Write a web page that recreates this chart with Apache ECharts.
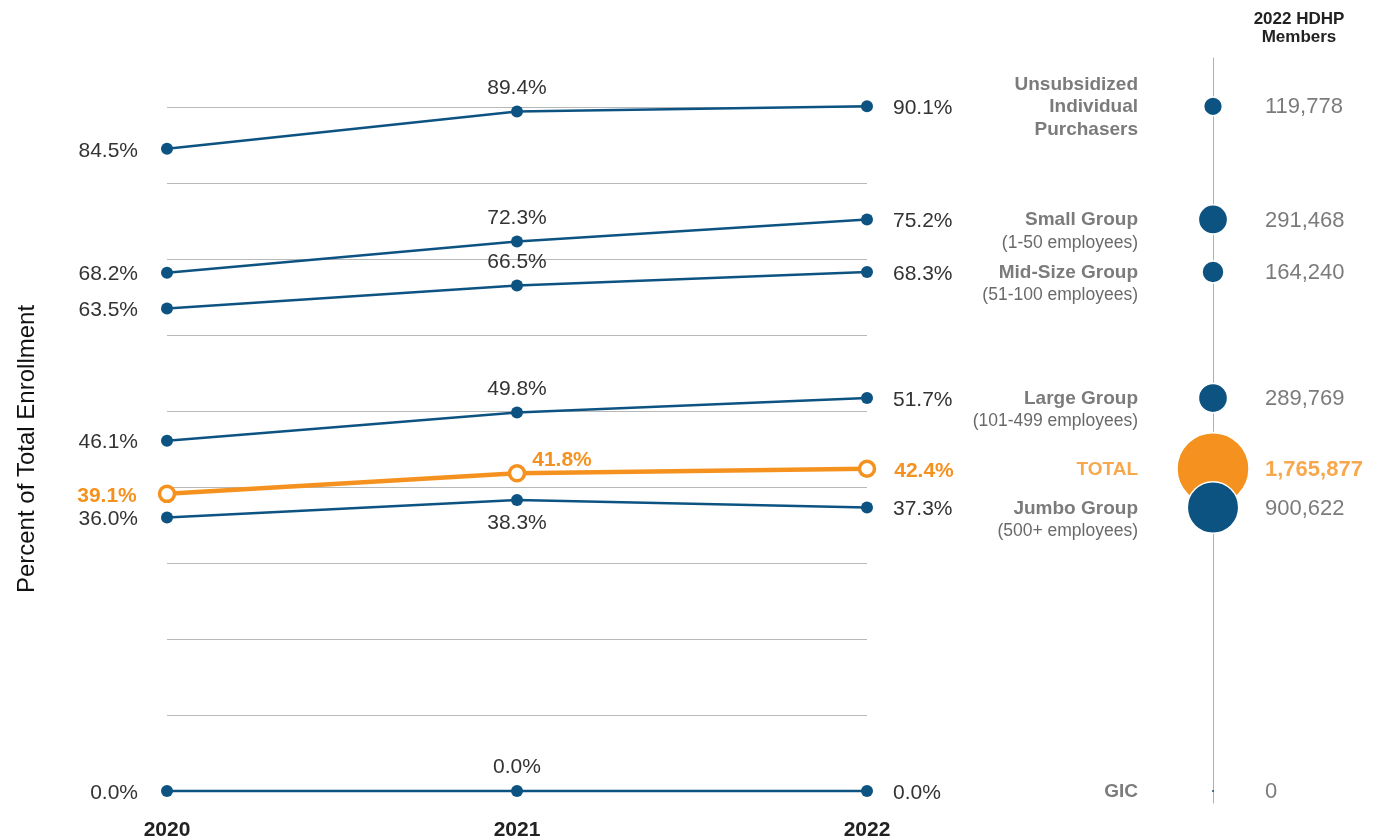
<!DOCTYPE html>
<html>
<head>
<meta charset="utf-8">
<script src="https://cdn.jsdelivr.net/npm/echarts@6/dist/echarts.min.js"></script>
<style>html,body{margin:0;padding:0;background:#fff}#c{width:1387px;height:840px}</style>
</head>
<body>
<div id="c"></div>
<script>
var years = ['2020', '2021', '2022'];
var segNames = ['Unsubsidized\nIndividual\nPurchasers', 'Small Group', 'Mid-Size Group', 'Large Group', 'TOTAL', 'Jumbo Group', 'GIC'];
var segSubs = ['', '(1-50 employees)', '(51-100 employees)', '(101-499 employees)', '', '(500+ employees)', ''];
var unsub = [84.5, 89.4, 90.1];
var small = [68.2, 72.3, 75.2];
var mid = [63.5, 66.5, 68.3];
var large = [46.1, 49.8, 51.7];
var total = [39.1, 41.8, 42.4];
var jumbo = [36.0, 38.3, 37.3];
var gic = [0.0, 0.0, 0.0];
var members2022 = [119778, 291468, 164240, 289769, 1765877, 900622, 0];

var BLUE = '#0d5382', ORANGE = '#f5921f', FONT = '"Liberation Sans", Arial, sans-serif';
var seriesVals = [unsub, small, mid, large, total, jumbo, gic];

function fmtPct(v) { return v.toFixed(1) + '%'; }

var series = [];
seriesVals.forEach(function (vals, si) {
  var isTotal = si === 4;
  var mid2021pos = si === 5 ? 'bottom' : 'top';
  var data = vals.map(function (v, i) {
    var lab;
    if (i === 0) lab = { position: 'left', distance: isTotal ? 21 : 23, offset: [0, 2] };
    else if (i === 2) lab = { position: 'right', distance: isTotal ? 18 : 20, offset: [0, 2] };
    else if (isTotal) lab = { position: 'right', distance: 6, offset: [0, -13] };
    else lab = { position: mid2021pos, distance: 7 };
    return { value: v, label: lab };
  });
  series.push({
    type: 'line',
    xAxisIndex: 0, yAxisIndex: 0,
    data: data,
    clip: false,
    z: isTotal ? 5 : 3,
    symbol: 'circle',
    symbolSize: isTotal ? 15 : 12,
    showAllSymbol: true,
    lineStyle: { color: isTotal ? ORANGE : BLUE, width: isTotal ? 4.5 : 2.5 },
    itemStyle: isTotal ? { color: '#fff', borderColor: ORANGE, borderWidth: 3.5 } : { color: BLUE, borderWidth: 0 },
    label: {
      show: true,
      formatter: function (p) { return fmtPct(p.value); },
      fontFamily: FONT,
      fontSize: 21,
      color: isTotal ? ORANGE : '#333',
      fontWeight: isTotal ? 'bold' : 'normal'
    },
    emphasis: { disabled: true },
    animation: false
  });
});

var kSize = 72 / Math.sqrt(1765877);
var bubbleData = seriesVals.map(function (vals, si) {
  return {
    value: [0, vals[2]],
    members: members2022[si],
    itemStyle: { color: si === 4 ? ORANGE : BLUE, borderWidth: members2022[si] > 0 ? 1.5 : 0 }
  };
});
series.push({
  type: 'scatter',
  xAxisIndex: 1, yAxisIndex: 1,
  data: bubbleData,
  symbolSize: function (val, p) { return Math.max(2, kSize * Math.sqrt(p.data.members)); },
  itemStyle: { borderColor: '#fff', opacity: 1 },
  z: 4,
  emphasis: { disabled: true },
  animation: false
});
// name labels (left) and value labels (right)
series.push({
  type: 'scatter',
  xAxisIndex: 1, yAxisIndex: 1,
  symbolSize: 0,
  data: seriesVals.map(function (vals, si) {
    return {
      value: [0, vals[2]],
      label: {
        offset: [0, segSubs[si] ? 12 : 1],
        formatter: segSubs[si] ? '{b|' + segNames[si] + '}\n{s|' + segSubs[si] + '}' : '{' + (si === 4 ? 't' : 'b') + '|' + segNames[si] + '}'
      }
    };
  }),
  label: {
    show: true, position: 'left', distance: 75, align: 'right',
    fontFamily: FONT,
    rich: {
      b: { fontFamily: FONT, fontSize: 19, fontWeight: 'bold', color: '#5a5a5a', lineHeight: 22.5, align: 'right' },
      t: { fontFamily: FONT, fontSize: 19, fontWeight: 'bold', color: ORANGE, lineHeight: 22.5, align: 'right' },
      s: { fontFamily: FONT, fontSize: 17.5, color: '#444', lineHeight: 22.5, align: 'right' }
    }
  },
  emphasis: { disabled: true },
  animation: false,
  z: 6
});
series.push({
  type: 'scatter',
  xAxisIndex: 1, yAxisIndex: 1,
  symbolSize: 0,
  data: seriesVals.map(function (vals, si) {
    return {
      value: [0, vals[2]],
      label: {
        formatter: members2022[si].toLocaleString('en-US'),
        color: si === 4 ? ORANGE : '#5a5a5a',
        fontWeight: si === 4 ? 'bold' : 'normal'
      }
    };
  }),
  label: { show: true, position: 'right', distance: 52, fontFamily: FONT, fontSize: 22, offset: [0, 1] },
  emphasis: { disabled: true },
  animation: false,
  z: 6
});

var chart = echarts.init(document.getElementById('c'), null, { renderer: 'canvas' });
chart.setOption({
  backgroundColor: '#fff',
  animation: false,
  title: {
    text: '2022 HDHP\nMembers',
    left: 1294, top: 5, textAlign: 'center',
    textStyle: { fontFamily: FONT, fontSize: 17, fontWeight: 'bold', color: '#222', lineHeight: 18 }
  },
  grid: [
    { left: 167, right: 520, top: 107, bottom: 49, outerBoundsMode: 'none', containLabel: false },
    { left: 1203, width: 20, top: 58, bottom: 37, outerBoundsMode: 'none', containLabel: false }
  ],
  xAxis: [
    {
      gridIndex: 0, type: 'category', data: years, boundaryGap: false,
      axisLine: { show: false }, axisTick: { show: false },
      axisLabel: { fontFamily: FONT, fontSize: 21, fontWeight: 'bold', color: '#222', margin: 29 }
    },
    { gridIndex: 1, type: 'value', min: -1, max: 1, show: false }
  ],
  yAxis: [
    {
      gridIndex: 0, type: 'value', min: 0, max: 90, interval: 10,
      name: 'Percent of Total Enrollment', nameLocation: 'middle', nameGap: 128,
      nameTextStyle: { fontFamily: FONT, fontSize: 24, color: '#111' },
      axisLine: { show: false }, axisTick: { show: false }, axisLabel: { show: false },
      splitLine: { lineStyle: { color: '#b8b8b8', width: 1 } }
    },
    {
      gridIndex: 1, type: 'value', min: -1.58, max: 96.45,
      axisLine: { show: true, onZero: true, lineStyle: { color: '#b0b0b0', width: 1 } },
      axisTick: { show: false }, axisLabel: { show: false }, splitLine: { show: false }
    }
  ],
  series: series
});
</script>
</body>
</html>
